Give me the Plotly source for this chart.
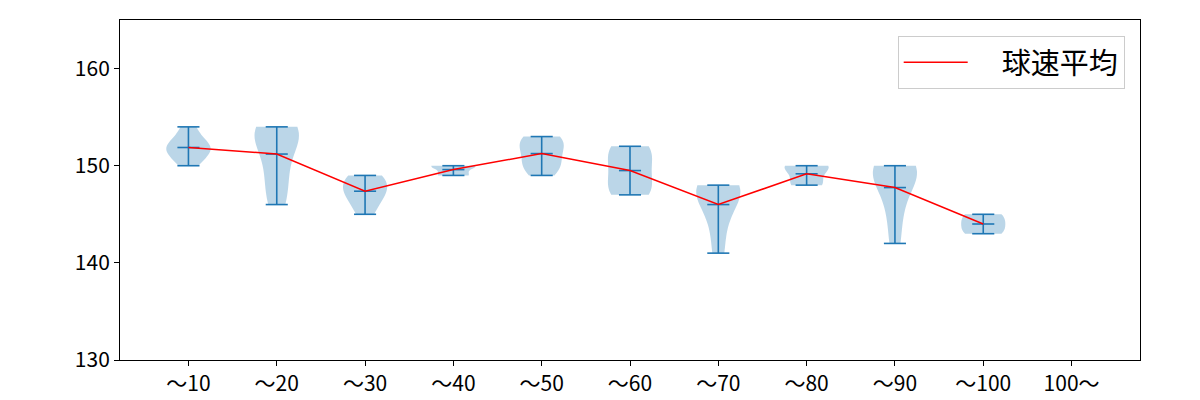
import numpy as np
import plotly.graph_objects as go

# ---- data (km/h) ----
categories = ["〜10", "〜20", "〜30", "〜40", "〜50", "〜60", "〜70", "〜80", "〜90", "〜100", "100〜"]
speeds_10 = [150, 151, 151, 152, 152, 152, 153, 154]
speeds_20 = [146, 147, 149, 150, 152, 153, 153, 154, 154, 154]
speeds_30 = [145, 146, 147, 147, 148, 148, 149, 149]
speeds_40 = [149, 149, 150, 150, 150]
speeds_50 = [149, 150, 150, 151, 152, 152, 153, 153]
speeds_60 = [147, 147, 148, 149, 150, 151, 152, 152]
speeds_70 = [141, 144, 146, 147, 148, 148, 148]
speeds_80 = [148, 148, 149, 150, 150, 150]
speeds_90 = [142, 145, 147, 149, 149, 150, 150, 150]
speeds_100 = [143, 143, 144, 144, 145, 145]
speeds_100plus = []
legend_label = "球速平均"

groups = [speeds_10, speeds_20, speeds_30, speeds_40, speeds_50, speeds_60,
          speeds_70, speeds_80, speeds_90, speeds_100, speeds_100plus]

FONT = "Noto Sans CJK JP"
BLUE = "#1f77b4"
FILL = "rgba(31,119,180,0.3)"

fig = go.Figure()
positions = list(range(1, len(categories) + 1))

# violin bodies
for pos, vals in zip(positions, groups):
    if len(vals) < 2:
        continue
    arr = np.array(vals, dtype=float)
    bw = arr.std(ddof=1) * len(arr) ** (-1 / 5)
    fig.add_trace(go.Violin(
        x=[pos] * len(arr), y=arr,
        width=0.5, scalemode="width", spanmode="hard", bandwidth=bw,
        points=False, fillcolor=FILL, line=dict(color="rgba(31,119,180,0)", width=0),
        showlegend=False, hoverinfo="skip", box_visible=False, meanline_visible=False,
    ))

# min/max/mean bars
cx, cy = [], []
half = 0.125
for pos, vals in zip(positions, groups):
    if len(vals) == 0:
        continue
    lo, hi, mu = min(vals), max(vals), float(np.mean(vals))
    cx += [pos, pos, None]
    cy += [lo, hi, None]
    for v in (lo, hi, mu):
        cx += [pos - half, pos + half, None]
        cy += [v, v, None]
fig.add_trace(go.Scatter(x=cx, y=cy, mode="lines", line=dict(color=BLUE, width=1.6),
                         showlegend=False, hoverinfo="skip"))

# mean line
mx = [p for p, v in zip(positions, groups) if len(v)]
my = [float(np.mean(v)) for v in groups if len(v)]
fig.add_trace(go.Scatter(x=mx, y=my, mode="lines", line=dict(color="red", width=1.5),
                         name="\u2003" + legend_label))

fig.update_layout(
    width=1200, height=400,
    margin=dict(l=120, r=60, t=20, b=40, autoexpand=False),
    paper_bgcolor="white", plot_bgcolor="white",
    violinmode="overlay",
    font=dict(family=FONT, size=18, color="black"),
    showlegend=True,
    legend=dict(x=0.985, y=0.953, xanchor="right", yanchor="top",
                bgcolor="rgba(255,255,255,0.8)", bordercolor="#cccccc", borderwidth=1,
                font=dict(size=29, family=FONT), itemwidth=64),
)
fig.update_xaxes(range=[0.225, 11.775], tickmode="array", tickvals=positions, ticktext=categories,
                 automargin=False,
                 showgrid=False, zeroline=False, showline=True, linecolor="black", linewidth=1,
                 mirror=True, ticks="outside", ticklen=5, tickcolor="black",
                 tickfont=dict(size=21, family=FONT))
fig.update_yaxes(range=[130, 165], tickvals=[130, 140, 150, 160], automargin=False,
                 showgrid=False, zeroline=False, showline=True, linecolor="black", linewidth=1,
                 mirror=True, ticks="outside", ticklen=5, tickcolor="black",
                 tickfont=dict(size=21, family=FONT))

fig.write_html("out.html")
